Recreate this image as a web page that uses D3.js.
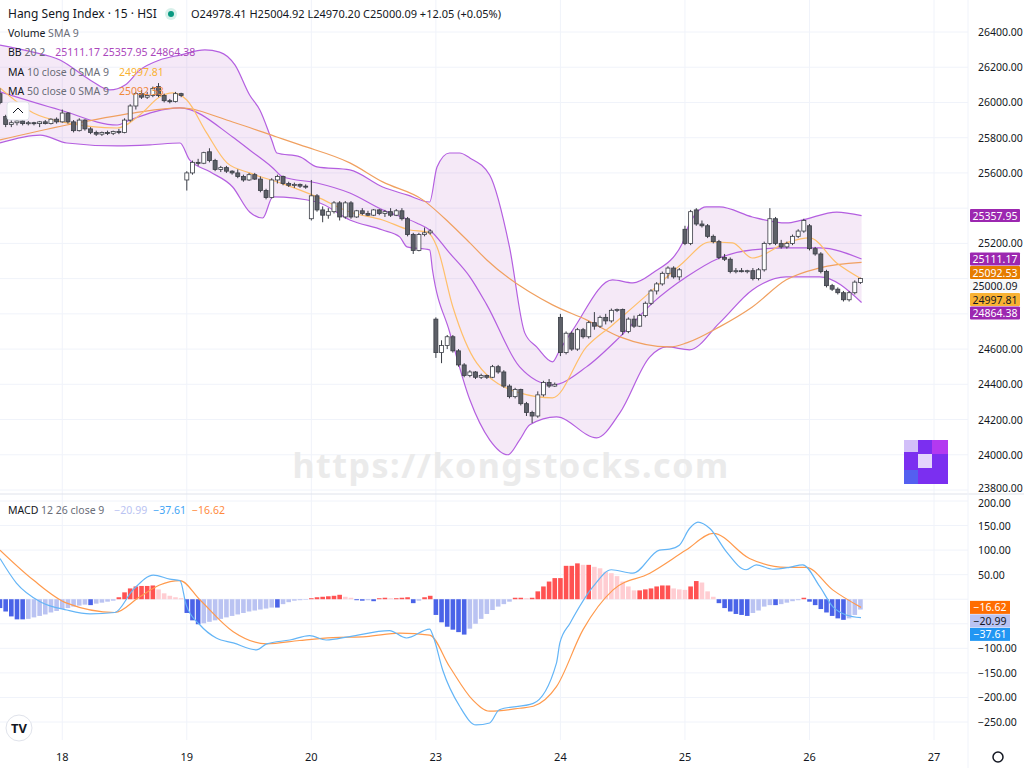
<!DOCTYPE html>
<html>
<head>
<meta charset="utf-8">
<script src="https://cdn.jsdelivr.net/npm/d3@7"></script>
<style>
  body { margin: 0; background: #fff; font-family: "Noto Sans", "DejaVu Sans", sans-serif; }
  svg text { font-family: "Noto Sans", "DejaVu Sans", sans-serif; }
</style>
</head>
<body>
<svg id="chart" width="1024" height="768"></svg>
<script>
// 15-minute candles, [open, high, low, close]
const candles = [
  [26050,26080,25990,26000],[25920,25930,25860,25875],[25875,25900,25860,25885],[25885,25905,25870,25895],
  [25895,25900,25870,25880],[25880,25895,25870,25885],[25885,25890,25870,25880],[25880,25895,25860,25890],
  [25890,25900,25875,25880],[25880,25910,25875,25905],[25905,25915,25880,25890],
  [25890,25960,25885,25940],[25940,25945,25880,25890],[25890,25900,25830,25840],[25840,25910,25835,25900],
  [25900,25905,25840,25850],[25850,25860,25820,25830],[25830,25840,25810,25820],[25820,25835,25810,25830],
  [25830,25840,25815,25825],[25825,25840,25815,25835],[25835,25850,25820,25830],[25830,25910,25825,25900],
  [25900,25990,25890,25980],[25980,26060,25960,26050],[26050,26070,26020,26030],[26030,26060,26020,26040],
  [26040,26090,26030,26080],[26090,26110,26030,26040],[26040,26050,26000,26010],[26010,26020,25995,26005],
  [26005,26060,26000,26050],[26050,26055,26030,26040],
  [25560,25610,25500,25600],[25600,25670,25590,25660],[25660,25680,25640,25655],[25655,25720,25650,25715],
  [25720,25740,25660,25670],[25670,25680,25610,25620],[25620,25640,25605,25630],[25630,25640,25600,25610],
  [25610,25615,25590,25600],[25600,25620,25570,25580],[25580,25590,25550,25560],[25560,25600,25555,25590],
  [25590,25600,25560,25565],[25565,25580,25490,25500],[25500,25510,25450,25460],[25460,25570,25455,25560],
  [25560,25590,25540,25580],[25580,25585,25530,25540],[25540,25550,25520,25530],[25530,25545,25515,25535],
  [25535,25540,25515,25525],[25525,25535,25510,25520],
  [25340,25560,25330,25470],[25470,25480,25380,25390],[25390,25410,25320,25360],[25360,25400,25340,25380],
  [25380,25440,25370,25430],[25430,25440,25330,25350],[25350,25440,25340,25430],[25430,25440,25340,25350],
  [25350,25390,25345,25385],[25385,25400,25360,25370],[25370,25385,25355,25360],[25360,25395,25355,25390],
  [25390,25395,25360,25370],[25370,25390,25350,25380],[25380,25400,25350,25360],[25360,25395,25355,25385],
  [25385,25400,25330,25340],[25340,25350,25240,25250],[25250,25260,25140,25160],[25160,25260,25155,25250],
  [25250,25290,25240,25260],[25260,25280,25250,25270],
  [24770,24780,24550,24580],[24580,24650,24520,24620],[24620,24680,24600,24670],[24670,24680,24580,24590],
  [24590,24600,24500,24510],[24510,24520,24440,24450],[24450,24480,24440,24470],[24470,24475,24430,24440],
  [24440,24460,24430,24450],[24450,24455,24430,24440],[24440,24510,24435,24500],[24500,24510,24460,24470],
  [24470,24480,24380,24390],[24390,24400,24320,24330],[24330,24380,24320,24370],[24370,24375,24280,24290],
  [24290,24300,24220,24240],[24240,24250,24180,24220],[24220,24360,24210,24340],[24340,24420,24330,24410],
  [24410,24430,24380,24390],[24390,24410,24385,24400],
  [24780,24800,24560,24580],[24580,24700,24570,24690],[24690,24700,24590,24600],[24600,24720,24590,24710],
  [24710,24720,24660,24670],[24670,24760,24660,24750],[24750,24810,24710,24730],[24730,24790,24720,24780],
  [24780,24800,24740,24760],[24760,24830,24750,24820],[24820,24830,24810,24825],[24825,24830,24680,24700],
  [24700,24780,24690,24770],[24770,24790,24720,24730],[24730,24800,24725,24790],[24790,24870,24780,24860],
  [24860,24940,24850,24930],[24930,24980,24910,24970],[24970,25040,24960,25030],[25030,25070,25000,25060],
  [25060,25070,25000,25010],[25010,25060,24990,25050],
  [25280,25300,25190,25200],[25200,25390,25190,25380],[25390,25400,25300,25310],[25310,25330,25290,25300],
  [25300,25310,25230,25240],[25240,25250,25200,25210],[25210,25220,25110,25120],[25120,25140,25100,25110],
  [25110,25120,25030,25040],[25040,25060,25030,25045],[25045,25060,25035,25040],[25040,25050,25030,25045],
  [25045,25060,24990,25000],[25000,25060,24990,25050],[25050,25210,25040,25200],[25200,25400,25190,25340],
  [25340,25350,25190,25200],[25200,25220,25170,25180],[25180,25210,25170,25200],[25200,25250,25190,25240],
  [25240,25280,25230,25270],[25270,25340,25260,25330],
  [25300,25310,25160,25170],[25170,25180,25130,25140],[25140,25150,25030,25040],[25040,25050,24950,24960],
  [24960,24970,24930,24940],[24940,24950,24910,24920],[24920,24930,24870,24880],[24880,24930,24870,24920],
  [24920,24990,24910,24980],[24978.41,25004.92,24970.20,25000.09]
];

// indicator lines as [bar index, value]
const bbUpper = [[0,26326],[5.3,26290],[10.6,26241],[15.9,26128],[19.4,26071],[22.1,26099],[24.7,26184],[28.2,26241],
  [31.8,26269],[36.2,26298],[38.8,26286],[41.5,26213],[44.1,26042],[45.9,25957],[48,25787],[48.9,25713],[53,25691],
  [56,25634],[61.8,25617],[67.6,25520],[71.9,25475],[75.9,25435],[77.2,25634],[79.4,25713],[81.2,25713],[83,25685],
  [86.5,25588],[90,25180],[92.7,24692],[94.8,24612],[97.6,24527],[98.9,24596],[101.2,24709],[108.2,24993],
  [111.8,24976],[115.3,25032],[120.6,25203],[121.3,25276],[124.8,25407],[127.1,25407],[132.9,25350],[138.9,25316],
  [141.8,25333],[147.8,25378],[152.2,25357.95]];
const bbBasis = [[0,26060],[10.6,25957],[20.7,25872],[23,25901],[31.8,25969],[41.1,25804],[44.1,25730],[48,25634],
  [50,25577],[56,25543],[61.8,25486],[67.6,25390],[73.6,25316],[75.9,25276],[79.4,25146],[83,25010],[86,24851],
  [91.8,24499],[97.6,24397],[103.6,24499],[109.5,24669],[115.3,24862],[121.3,25010],[127.1,25117],[132.9,25163],
  [138.9,25174],[144.8,25174],[152.2,25111.17]];
const bbLower = [[0,25770],[7.1,25815],[11.8,25770],[20.7,25753],[26.5,25759],[31.8,25770],[33.5,25674],[37.1,25606],
  [41.1,25520],[44.1,25378],[46.4,25344],[48.2,25464],[56,25435],[61.8,25333],[67.6,25276],[70.6,25237],[71.9,25180],
  [75.9,25163],[76.4,25049],[79.4,24700],[83,24312],[86.5,24085],[89.7,24000],[91.8,24085],[93.6,24170],[98.3,24215],
  [105.4,24096],[109.5,24238],[114.8,24556],[117.8,24612],[121.8,24596],[127.1,24749],[132.9,24936],[138.9,25010],
  [144.8,25010],[152.2,24864.38]];
const ma10 = [[0,26082],[5.9,25940],[11.8,25884],[20.7,25855],[24.7,25929],[28.2,26031],[30.5,26054],[33,26014],
  [36.5,25827],[40.1,25657],[44.1,25600],[50,25538],[56,25464],[61.8,25378],[67.6,25333],[72.4,25276],[75.4,25265],
  [77.2,25180],[80,24839],[84.2,24522],[91.8,24351],[97.6,24323],[103.6,24612],[108.2,24737],[115.3,24936],
  [120.6,25089],[125.4,25208],[129.4,25203],[132.9,25117],[138.9,25203],[143,25231],[147.8,25089],[152.2,24997.81]];
const ma50 = [[0,25787],[11.8,25872],[23.5,25940],[31.8,25969],[41.1,25889],[48.9,25804],[53,25759],[61.8,25657],
  [67.6,25549],[74.7,25447],[79.4,25316],[83,25203],[86,25106],[97.6,24851],[103.6,24766],[109.5,24669],[118.3,24612],
  [121.3,24635],[127.1,24726],[132.9,24839],[138.9,24993],[144.8,25061],[152.2,25092.53]];

const macdLine = [[0,83],[2.9,33],[7.1,-5],[11.8,-22],[15.9,-30],[20.3,-27],[23.5,19],[27.1,49],[30,41],[31.8,38],
  [32.9,-12],[35.3,-52],[38.2,-79],[41.2,-89],[45.3,-103],[47.1,-91],[51.2,-83],[54.7,-74],[57.6,-83],[61.8,-76],
  [68.8,-64],[71.8,-79],[75.9,-61],[76.5,-75],[78.2,-144],[81.2,-218],[84.1,-256],[86.5,-252],[88.2,-225],[94.2,-212],
  [98.3,-130],[98.9,-89],[100.7,-49],[104.8,26],[108,60],[111.8,53],[116.5,100],[118.3,102],[120,110],[121.8,144],
  [123.3,157],[125.4,144],[128.3,97],[131.8,60],[133.6,70],[136.5,61],[139.5,65],[141.8,70],[144.8,26],[147.1,-15],
  [149.5,-32],[152.1,-37.61]];
const signalLine = [[0,100],[5.9,39],[11.8,-8],[20.3,-27],[24.7,5],[28.2,29],[31.8,38],[35.3,-1],[41.2,-66],[47.1,-91],
  [52.9,-84],[58.8,-78],[64.7,-76],[70.6,-69],[75.9,-73],[79.4,-137],[83.5,-205],[86.5,-228],[91.8,-222],[94.2,-218],
  [98.3,-178],[103,-62],[108.3,19],[114.8,53],[121.2,100],[126,134],[132.4,83],[138.9,65],[142.4,65],[147.1,19],
  [152.1,-16.62]];
const histogram = [-18,-25,-35,-41,-41,-40,-37,-34,-31,-27,-24,-20,
  -18,-15,-13,-11,-12,-9,-7,-5,-3,
  4,14,22,26,27,27,28,20,12,7,4,2,
  -28,-43,-51,-49,-46,-43,-40,-37,-34,-31,-28,-25,-23,-21,-19,-17,-17,-10,-6,-3,-2,-1,
  2,4,5,6,7,9,5,3,-2,-3,-2,-4,2,3,2,2,3,4,-8,-3,4,7,
  -32,-47,-56,-62,-67,-72,-60,-50,-40,-30,-22,-15,-10,-5,3,3,2,3,
  16,26,36,43,43,68,68,73,70,70,66,63,56,53,47,36,26,18,18,20,22,26,28,28,22,20,19,26,37,34,16,5,
  -8,-18,-25,-30,-32,-34,-28,-23,-15,-12,-12,-10,-7,-4,-2,3,
  -5,-12,-20,-27,-34,-39,-42,-39,-32,-21];

const dayLabels = ["18","19","20","23","24","25","26","27"];
const dayStart = [11,33,55,77,99,121,143,165];
const priceTicks = d3.range(23800, 26401, 200);
const macdTicks = [200,150,100,50,0,-50,-100,-150,-200,-250];

const svg = d3.select("#chart");
const W = 968, priceBottom = 494, macdBottom = 740;

const x = d3.scaleLinear().domain([0, 171]).range([0, W]);
const y = d3.scaleLinear().domain([23800, 26400]).range([490, 32]);
const ym = d3.scaleLinear().domain([-250, 200]).range([722, 501]);

// grid
const grid = svg.append("g");
grid.selectAll(".vg").data(dayStart).enter().append("line")
  .attr("x1", d => x(d)).attr("x2", d => x(d)).attr("y1", 0).attr("y2", macdBottom)
  .attr("stroke", "#f0f3fa");
grid.selectAll(".hg").data(priceTicks).enter().append("line")
  .attr("x1", 0).attr("x2", W).attr("y1", d => y(d)).attr("y2", d => y(d)).attr("stroke", "#f0f3fa");
grid.selectAll(".hm").data(macdTicks).enter().append("line")
  .attr("x1", 0).attr("x2", W).attr("y1", d => ym(d)).attr("y2", d => ym(d)).attr("stroke", "#f0f3fa");
svg.append("line").attr("x1", 0).attr("x2", 1024).attr("y1", priceBottom).attr("y2", priceBottom)
  .attr("stroke", "#e0e3eb");
svg.append("line").attr("x1", W).attr("x2", W).attr("y1", 0).attr("y2", 768).attr("stroke", "#f0f3fa");

// watermark
svg.append("text").attr("x", 511).attr("y", 478).attr("text-anchor", "middle")
  .attr("font-size", 34).attr("font-weight", "bold").attr("fill", "#ebebeb").attr("letter-spacing", 1.5)
  .text("https://kongstocks.com");

// bollinger fill
const line = d3.line().x(d => x(d[0])).y(d => y(d[1])).curve(d3.curveMonotoneX);
svg.append("path")
  .attr("d", line(bbUpper) + "L" + line(bbLower.slice().reverse()).slice(1) + "Z")
  .attr("fill", "rgba(156,39,176,0.1)").attr("stroke", "none");

[[bbUpper, "#b45fe0"], [bbBasis, "#b45fe0"], [bbLower, "#b45fe0"], [ma50, "#f0a060"], [ma10, "#ffbf6a"]]
  .forEach(([d, c]) => svg.append("path").attr("d", line(d)).attr("fill", "none")
    .attr("stroke", c).attr("stroke-width", 1.2));

// candles
const cg = svg.append("g").selectAll("g").data(candles).enter().append("g");
cg.append("line")
  .attr("x1", (d, i) => x(i)).attr("x2", (d, i) => x(i))
  .attr("y1", d => y(d[1])).attr("y2", d => y(d[2])).attr("stroke", "#3a3d45");
cg.append("rect")
  .attr("x", (d, i) => x(i) - 2).attr("width", 4)
  .attr("y", d => y(Math.max(d[0], d[3])))
  .attr("height", d => Math.max(1, Math.abs(y(d[0]) - y(d[3]))))
  .attr("fill", d => d[3] >= d[0] ? "#ffffff" : "#5d6068")
  .attr("stroke", "#3a3d45").attr("stroke-width", 0.8);

// MACD histogram
svg.append("g").selectAll("rect").data(histogram).enter().append("rect")
  .attr("x", (d, i) => x(i) - 2.3).attr("width", 4.6)
  .attr("y", d => Math.min(ym(d), ym(0)))
  .attr("height", d => Math.abs(ym(d) - ym(0)))
  .attr("fill", (d, i) => {
    const p = i > 0 ? histogram[i - 1] : d;
    if (d >= 0) return d >= p ? "#ff5252" : "#ffcdd2";
    return d <= p ? "#4a63e8" : "#bac3f2";
  });
const mline = d3.line().x(d => x(d[0])).y(d => ym(d[1])).curve(d3.curveMonotoneX);
svg.append("path").attr("d", mline(signalLine)).attr("fill", "none").attr("stroke", "#ff9a4d").attr("stroke-width", 1.2);
svg.append("path").attr("d", mline(macdLine)).attr("fill", "none").attr("stroke", "#64b5f6").attr("stroke-width", 1.2);

// price badges
const badges = [
  { v: 25357.95, bg: "#9c27b0", fg: "#fff" },
  { v: 25111.17, bg: "#9c27b0", fg: "#fff" },
  { v: 25092.53, bg: "#e67c00", fg: "#fff" },
  { v: 25000.09, bg: "#f8f8f8", fg: "#131722" },
  { v: 24997.81, bg: "#f9b233", fg: "#131722" },
  { v: 24864.38, bg: "#9c27b0", fg: "#fff" }
];
let last = -100;
badges.forEach(b => { b.cy = Math.max(y(b.v), last + 13.5); last = b.cy; });
const mBadges = [
  { v: -16.62, bg: "#ff6d00", fg: "#fff" },
  { v: -20.99, bg: "#bac3f2", fg: "#131722" },
  { v: -37.61, bg: "#2196f3", fg: "#fff" }
];
last = -100;
mBadges.forEach(b => { b.cy = Math.max(ym(b.v), last + 13.5); last = b.cy; });

// right axes, labels hidden where a badge covers them
const free = (py, list) => list.every(b => Math.abs(b.cy - py) > 11);
const axisTxt = svg.append("g").attr("font-size", 10.5).attr("fill", "#131722");
axisTxt.selectAll(".pt").data(priceTicks.filter(d => free(y(d), badges))).enter().append("text")
  .attr("x", 978).attr("y", d => y(d) + (d === 23800 ? 2 : 4)).text(d => d3.format(".2f")(d));
axisTxt.selectAll(".mt").data(macdTicks.filter(d => free(ym(d), mBadges))).enter().append("text")
  .attr("x", 978).attr("y", d => ym(d) + (d === 200 ? 6 : 4)).text(d => d3.format(".2f")(d).replace("-", "\u2212"));

const bg = svg.append("g").selectAll("g").data(badges).enter().append("g");
bg.append("rect").attr("x", 970).attr("width", 50).attr("y", d => d.cy - 6.5).attr("height", 13)
  .attr("fill", d => d.bg).attr("rx", 1);
bg.append("text").attr("x", 995).attr("y", d => d.cy + 4).attr("text-anchor", "middle")
  .attr("font-size", 10.5).attr("fill", d => d.fg).text(d => d3.format(".2f")(d.v));

const mg = svg.append("g").selectAll("g").data(mBadges).enter().append("g");
mg.append("rect").attr("x", 970).attr("width", 40).attr("y", d => d.cy - 6.5).attr("height", 13).attr("fill", d => d.bg);
mg.append("text").attr("x", 990).attr("y", d => d.cy + 4).attr("text-anchor", "middle")
  .attr("font-size", 10.5).attr("fill", d => d.fg).text(d => d3.format(".2f")(d.v).replace("-", "\u2212"));

// time axis
svg.append("g").selectAll("text").data(dayLabels).enter().append("text")
  .attr("x", (d, i) => x(dayStart[i])).attr("y", 761).attr("text-anchor", "middle")
  .attr("font-size", 11).attr("fill", "#131722").text(d => d);

// legends
const lg = svg.append("g").attr("font-size", 10.5);
lg.append("text").attr("x", 8).attr("y", 18).attr("font-size", 12).attr("fill", "#131722")
  .text("Hang Seng Index \u00b7 15 \u00b7 HSI");
lg.append("circle").attr("cx", 171).attr("cy", 14).attr("r", 6).attr("fill", "#d8f0ea");
lg.append("circle").attr("cx", 171).attr("cy", 14).attr("r", 3).attr("fill", "#089981");
lg.append("text").attr("x", 191).attr("y", 18).attr("font-size", 11).attr("fill", "#131722")
  .text("O24978.41  H25004.92  L24970.20  C25000.09  +12.05 (+0.05%)");
const rows = [
  ["Volume", " SMA 9", "", ""],
  ["BB", " 20 2", "25111.17  25357.95  24864.38", "#ab47bc"],
  ["MA", " 10 close 0 SMA 9", "24997.81", "#f9b233"],
  ["MA", " 50 close 0 SMA 9", "25092.53", "#f0883a"]
];
rows.forEach((r, i) => {
  const t = lg.append("text").attr("x", 8).attr("y", 37 + i * 19.3);
  t.append("tspan").attr("fill", "#131722").text(r[0]);
  t.append("tspan").attr("fill", "#6a6d78").text(r[1]);
  t.append("tspan").attr("fill", r[3]).attr("dx", 10).text(r[2]);
});
const mt = lg.append("text").attr("x", 8).attr("y", 514);
mt.append("tspan").attr("fill", "#131722").text("MACD");
mt.append("tspan").attr("fill", "#6a6d78").text(" 12 26 close 9");
mt.append("tspan").attr("fill", "#bac3f2").attr("dx", 10).text("\u221220.99");
mt.append("tspan").attr("fill", "#42a5f5").attr("dx", 6).text("\u221237.61");
mt.append("tspan").attr("fill", "#ff8a3d").attr("dx", 6).text("\u221216.62");

// collapse button
svg.append("rect").attr("x", 7).attr("y", 102).attr("width", 22).attr("height", 18).attr("rx", 3)
  .attr("fill", "#fff").attr("stroke", "#e0e3eb");
svg.append("path").attr("d", "M13,113 L18,108 L23,113").attr("fill", "none").attr("stroke", "#131722");

// logo square
const lx = 904, ly = 440;
svg.append("rect").attr("x", lx).attr("y", ly).attr("width", 44).attr("height", 44).attr("fill", "#7b2ff0");
[[0, 30, 14, 14, "#4b6cf0"], [14, 14, 14, 14, "#ffffff"], [28, 0, 16, 14, "#c23cf0"], [0, 0, 14, 12, "#e9e3fb"]]
  .forEach(r => svg.append("rect").attr("x", lx + r[0]).attr("y", ly + r[1]).attr("width", r[2])
    .attr("height", r[3]).attr("fill", r[4]).attr("opacity", 0.8));

// TV logo + gear
svg.append("circle").attr("cx", 19).attr("cy", 728).attr("r", 13).attr("fill", "#fff").attr("stroke", "#e0e3eb");
svg.append("text").attr("x", 19).attr("y", 733).attr("text-anchor", "middle").attr("font-size", 13)
  .attr("font-weight", "bold").attr("fill", "#131722").text("TV");
svg.append("circle").attr("cx", 998).attr("cy", 757).attr("r", 5).attr("fill", "none")
  .attr("stroke", "#131722").attr("stroke-width", 1.5);
</script>
</body>
</html>
